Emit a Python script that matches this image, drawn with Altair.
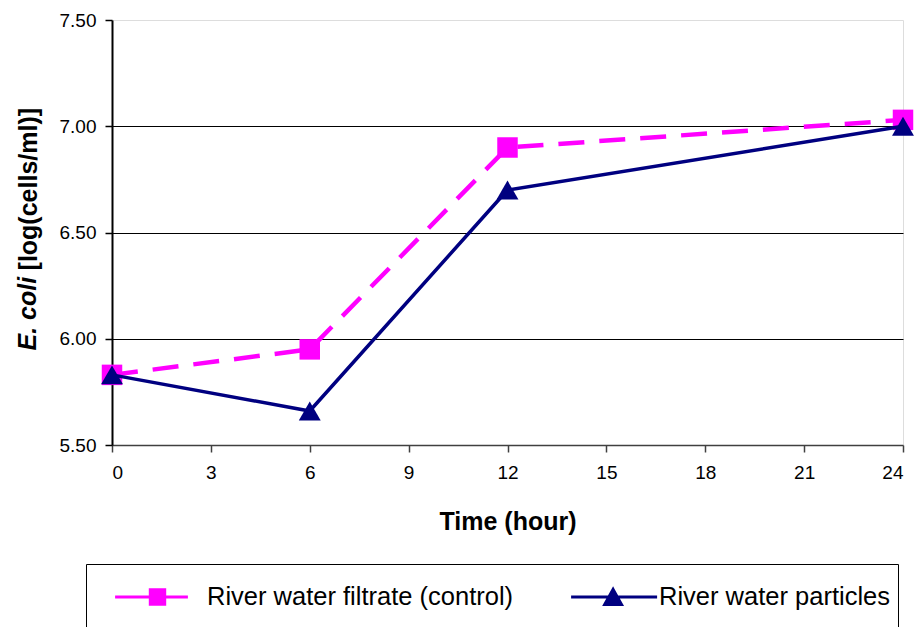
import altair as alt
import pandas as pd

# Measurements: E. coli counts over time for two river-water treatments
hours = [0, 6, 12, 24]
filtrate = [5.83, 5.95, 6.90, 7.03]
particles = [5.83, 5.66, 6.70, 7.00]

series_names = ["River water filtrate (control)", "River water particles"]
series_colors = ["#FF00FF", "#000080"]

x_ticks = [0, 3, 6, 9, 12, 15, 18, 21, 24]
y_ticks = [5.5, 6.0, 6.5, 7.0, 7.5]

x_title = "Time (hour)"
y_title_italic = "E. coli"
y_title_rest = "[log(cells/ml)]"

FONT = "Liberation Sans"

rows = []
for name, vals in zip(series_names, [filtrate, particles]):
    for h, v in zip(hours, vals):
        rows.append({"hour": h, "ecoli": v, "series": name})
df = pd.DataFrame(rows)

x_enc = alt.X(
    "hour:Q",
    scale=alt.Scale(domain=[0, 24], nice=False, zero=False),
    axis=alt.Axis(
        values=x_ticks, title=x_title, grid=False,
        domainColor="#404040", domainWidth=1.5,
        tickColor="#404040", tickWidth=1.5, tickSize=7,
        labelFont=FONT, labelFontSize=19, labelColor="black", labelPadding=11,
        titleFont=FONT, titleFontSize=25, titleFontWeight="bold",
        titleColor="black", titlePadding=27,
    ),
)
y_enc = alt.Y(
    "ecoli:Q",
    scale=alt.Scale(domain=[5.5, 7.5], nice=False, zero=False),
    axis=alt.Axis(
        values=y_ticks, format=".2f", title=y_title_rest,
        grid=True, gridWidth=1,
        gridColor=alt.ConditionalAxisColor(
            condition={"test": "datum.value <= 5.5 || datum.value >= 7.5",
                       "value": "transparent"},
            value="black",
        ),
        domainColor="black", domainWidth=2,
        tickColor="black", tickWidth=1.5, tickSize=7,
        labelFont=FONT, labelFontSize=19, labelColor="black", labelPadding=9,
        titleFont=FONT, titleFontSize=25, titleFontWeight="bold", titleColor="black",
        titleAngle=270, titleAlign="center", titleBaseline="middle",
        titleX=-84, titleY=168.7,
    ),
)

# Legend symbols: a line stub with the series marker on it
legend_paths = [
    "M-0.51,0H1.31M0.37,-0.18H0.73V0.18H0.37Z",
    "M-0.41,0H1.74M0.64,-0.19L0.85,0.19L0.43,0.19Z",
]

pad_label = ("datum.label == '" + series_names[1] + "' ? datum.label + '"
             + "\u00a0" * 14 + "' : datum.label")

leg = alt.Legend(
    title=None, orient="none", legendX=-26, legendY=544, direction="horizontal",
    strokeColor="black", padding=8, clipHeight=50,
    symbolSize=6400, symbolStrokeWidth=3, symbolOpacity=1,
    labelOffset=30, columnPadding=32, labelLimit=1000,
    labelFont=FONT, labelFontSize=25.5, labelColor="black", labelBaseline="middle",
    labelExpr=pad_label,
)

base = alt.Chart(df)

legend_layer = base.mark_point(filled=True, opacity=0, strokeWidth=3).encode(
    x=x_enc, y=y_enc,
    fill=alt.Fill("series:N", scale=alt.Scale(domain=series_names, range=series_colors), legend=leg),
    stroke=alt.Stroke("series:N", scale=alt.Scale(domain=series_names, range=series_colors), legend=leg),
    shape=alt.Shape("series:N", scale=alt.Scale(domain=series_names, range=legend_paths), legend=leg),
)

filtrate_line = base.transform_filter(alt.datum.series == series_names[0]).mark_line(
    color=series_colors[0], strokeWidth=4.5, strokeDash=[26, 15]
).encode(x=x_enc, y=y_enc)
filtrate_pts = base.transform_filter(alt.datum.series == series_names[0]).mark_point(
    shape="square", filled=True, size=420, color=series_colors[0], opacity=1
).encode(x=x_enc, y=y_enc)

particles_line = base.transform_filter(alt.datum.series == series_names[1]).mark_line(
    color=series_colors[1], strokeWidth=3.5
).encode(x=x_enc, y=y_enc)
particles_pts = base.transform_filter(alt.datum.series == series_names[1]).mark_point(
    shape="triangle-up", filled=True, size=480, color=series_colors[1], opacity=1
).encode(x=x_enc, y=y_enc)

# Italic part of the y-axis title, set in line with the axis title
ytitle_part = alt.Chart(pd.DataFrame({"t": [y_title_italic]})).mark_text(
    angle=270, font=FONT, fontSize=25, fontWeight="bold", fontStyle="italic",
    align="center", baseline="middle", color="black",
).encode(x=alt.value(-84), y=alt.value(293.7), text="t:N")

chart = alt.layer(
    legend_layer, filtrate_line, filtrate_pts, particles_line, particles_pts, ytitle_part
).properties(
    width=791, height=425,
    autosize=alt.AutoSizeParams(type="none"),
    padding={"left": 112, "top": 20, "right": 16, "bottom": 182},
).configure_view(
    stroke="#808080", strokeWidth=2
).configure(background="white")

chart.save("out.html", embed_options={"renderer": "svg", "actions": False})
